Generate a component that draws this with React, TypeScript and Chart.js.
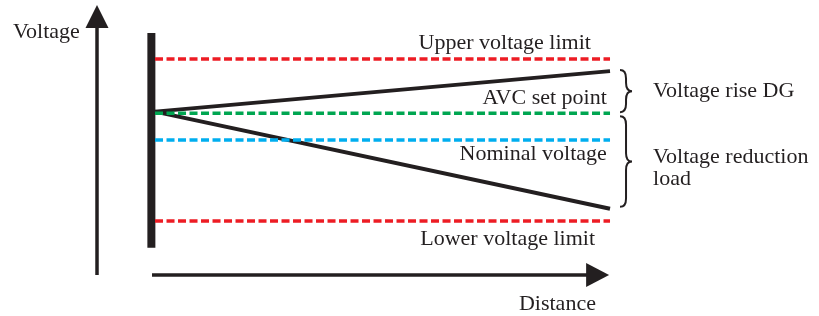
import React, { useEffect, useRef } from "react";
import { Chart, registerables } from "chart.js";

Chart.register(...registerables);

// Distance along the feeder (0 = substation busbar, 1 = feeder end)
const distance = [0, 1];
// Voltage levels (p.u.)
const upperLimit = [1.1, 1.1];
const avcSetPoint = [1.033, 1.033];
const nominalVoltage = [1.0, 1.0];
const lowerLimit = [0.9, 0.9];
const profileDG = [1.035, 1.085];
const profileLoad = [1.035, 0.915];
// Busbar
const busbarDistance = [-0.008, -0.008];
const busbarVoltage = [1.132, 0.867];

const lineLabels = [
  "Upper voltage limit",
  "AVC set point",
  "Nominal voltage",
  "Lower voltage limit",
];
const braceLabels = [["Voltage rise DG"], ["Voltage reduction", "load"]];
const axisLabels = ["Voltage", "Distance"];

const X_MIN = -0.3407;
const X_MAX = 1.4593;
const Y_MIN = 0.7827;
const Y_MAX = 1.1728;

const RED = "#ED1C24";
const GREEN = "#00A651";
const BLUE = "#00AEEF";
const BLACK = "#231F20";
const FONT = '22px "Liberation Serif", "Times New Roman", serif';

const pts = (xs: number[], ys: number[]) => xs.map((x, i) => ({ x, y: ys[i] }));

const decorPlugin = {
  id: "decor",
  afterDatasetsDraw(chart: any) {
    const ctx = chart.ctx;
    const xs = chart.scales.x;
    const ys = chart.scales.y;
    const px = (v: number) => xs.getPixelForValue(v);
    const py = (v: number) => ys.getPixelForValue(v);
    ctx.save();
    ctx.fillStyle = BLACK;
    ctx.strokeStyle = BLACK;

    // Axes arrows
    const ox = px(-0.1275);
    const oy = py(0.8333);
    const yTip = py(1.1667);
    const xStart = px(-0.0066);
    const xTip = px(0.998);
    ctx.lineWidth = 3.5;
    ctx.lineCap = "butt";
    ctx.beginPath();
    ctx.moveTo(ox, oy);
    ctx.lineTo(ox, yTip + 20);
    ctx.stroke();
    ctx.beginPath();
    ctx.moveTo(ox, yTip);
    ctx.lineTo(ox - 11.5, yTip + 23);
    ctx.lineTo(ox + 11.5, yTip + 23);
    ctx.closePath();
    ctx.fill();

    ctx.beginPath();
    ctx.moveTo(xStart, oy);
    ctx.lineTo(xTip - 20, oy);
    ctx.stroke();
    ctx.beginPath();
    ctx.moveTo(xTip, oy);
    ctx.lineTo(xTip - 23, oy - 12);
    ctx.lineTo(xTip - 23, oy + 12);
    ctx.closePath();
    ctx.fill();

    // Braces
    const brace = (x: number, y1: number, y2: number, w: number) => {
      const xm = x + w / 2;
      const ym = (y1 + y2) / 2;
      const r = w * 0.7;
      ctx.beginPath();
      ctx.moveTo(x, y1);
      ctx.quadraticCurveTo(xm, y1, xm, y1 + r);
      ctx.lineTo(xm, ym - r);
      ctx.quadraticCurveTo(xm, ym, x + w, ym);
      ctx.quadraticCurveTo(xm, ym, xm, ym + r);
      ctx.lineTo(xm, y2 - r);
      ctx.quadraticCurveTo(xm, y2, x, y2);
      ctx.stroke();
    };
    ctx.lineWidth = 2;
    const bx = px(1.022);
    brace(bx, py(profileDG[1]) - 1, py(avcSetPoint[1]) - 1, 12);
    brace(bx, py(avcSetPoint[1]) + 3, py(profileLoad[1]) - 2, 12);

    // Text
    ctx.font = FONT;
    ctx.textBaseline = "alphabetic";
    ctx.textAlign = "right";
    ctx.fillText(lineLabels[0], px(0.958), py(upperLimit[1]) - 10);
    ctx.fillText(lineLabels[1], px(0.993), py(avcSetPoint[1]) - 9);
    ctx.fillText(lineLabels[2], px(0.993), py(nominalVoltage[1]) + 20);
    ctx.fillText(lineLabels[3], px(0.967), py(lowerLimit[1]) + 24);
    ctx.fillText(axisLabels[1], px(0.969), oy + 35);
    ctx.textAlign = "left";
    ctx.fillText(axisLabels[0], px(-0.312), py(1.1264));
    const tx = px(1.0945);
    ctx.fillText(braceLabels[0][0], tx, py(profileDG[1]) + 26);
    ctx.fillText(braceLabels[1][0], tx, py(avcSetPoint[1]) + 50);
    ctx.fillText(braceLabels[1][1], tx, py(avcSetPoint[1]) + 72);
    ctx.restore();
  },
};

export default function App() {
  const ref = useRef<HTMLCanvasElement | null>(null);
  useEffect(() => {
    if (!ref.current) return;
    const dashed = (data: number[], color: string) => ({
      data: pts(distance, data),
      borderColor: color,
      borderWidth: 3.5,
      borderDash: [8, 3.5],
      pointRadius: 0,
      fill: false,
    });
    const solid = (data: number[]) => ({
      data: pts(distance, data),
      borderColor: BLACK,
      borderWidth: 4,
      pointRadius: 0,
      fill: false,
      borderCapStyle: "butt",
    });
    const chart = new Chart(ref.current, {
      type: "line",
      data: {
        datasets: [
          dashed(upperLimit, RED),
          dashed(avcSetPoint, GREEN),
          dashed(nominalVoltage, BLUE),
          dashed(lowerLimit, RED),
          solid(profileDG),
          solid(profileLoad),
          {
            data: pts(busbarDistance, busbarVoltage),
            borderColor: BLACK,
            borderWidth: 8,
            pointRadius: 0,
            fill: false,
            borderCapStyle: "butt",
          },
        ] as any,
      },
      options: {
        responsive: false,
        animation: false,
        parsing: false as any,
        layout: { padding: 0 },
        plugins: { legend: { display: false }, tooltip: { enabled: false } },
        scales: {
          x: { type: "linear", min: X_MIN, max: X_MAX, display: false },
          y: { type: "linear", min: Y_MIN, max: Y_MAX, display: false },
        },
      },
      plugins: [decorPlugin],
    });
    return () => chart.destroy();
  }, []);
  return (
    <div style={{ position: "fixed", left: 0, top: 0, width: 819, height: 316, background: "#fff" }}>
      <canvas ref={ref} width={819} height={316} />
    </div>
  );
}
